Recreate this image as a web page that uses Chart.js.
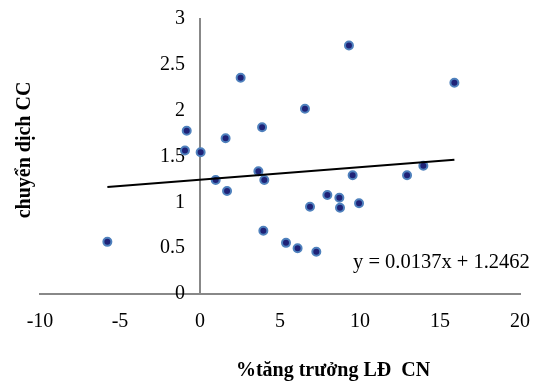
<!DOCTYPE html>
<html lang="vi">
<head>
  <meta charset="utf-8">
  <title>Scatter</title>
  <script src="https://cdn.jsdelivr.net/npm/chart.js"></script>
  <style>
    body { margin: 0; background: #fff; }
    .chart-box { width: 537px; height: 383px; position: relative; }
  </style>
</head>
<body>
  <div class="chart-box"><canvas id="scatterChart"></canvas></div>

  <script>
    // values
    const growthLD = [2.54, -0.83, 3.88, 1.6, -0.94, 0.04, 3.65, 0.98, 4.02, 1.69, 9.31, 15.9, 6.56,
      9.54, 12.94, 13.96, 7.96, 8.71, 6.875, 8.75, 9.94, 3.96, 5.375, 6.1, 7.27, -5.79];
    const shiftCC = [2.36, 1.78, 1.82, 1.70, 1.565, 1.547, 1.34, 1.244, 1.244, 1.124, 2.71, 2.305, 2.02,
      1.295, 1.295, 1.40, 1.08, 1.05, 0.952, 0.94, 0.99, 0.69, 0.558, 0.50, 0.46, 0.569];
    const trendX = [-5.79, 15.9];
    const trendY = [1.167, 1.464];
    const xTitle = '%tăng trưởng LĐ  CN';
    const yTitle = 'chuyển dịch CC';
    const equation = 'y = 0.0137x + 1.2462';

    const serif = '"Liberation Serif", "Times New Roman", serif';

    const textPlugin = {
      id: 'axisText',
      afterDraw(chart) {
        const ctx = chart.ctx;
        ctx.save();
        ctx.fillStyle = '#000';
        ctx.font = 'bold 20px ' + serif;
        ctx.textAlign = 'center';
        ctx.textBaseline = 'middle';
        ctx.fillText(xTitle, 333, 371);
        ctx.translate(25, 150);
        ctx.rotate(-Math.PI / 2);
        ctx.fillText(yTitle, 0, 0);
        ctx.restore();

        ctx.save();
        ctx.fillStyle = '#000';
        ctx.font = '20.5px ' + serif;
        ctx.textAlign = 'left';
        ctx.textBaseline = 'alphabetic';
        ctx.fillText(equation, 353, 268);
        ctx.restore();
      }
    };

    const plainNum = v => String(Number(v.toFixed(2)));
    // a y axis placed at x = 0 ignores tick padding, so trailing spaces keep the gap
    const yLabel = v => plainNum(v) + '\u2007 ';

    new Chart(document.getElementById('scatterChart').getContext('2d'), {
      type: 'scatter',
      data: {
        datasets: [
          {
            label: 'data',
            data: growthLD.map((x, i) => ({ x, y: shiftCC[i] })),
            backgroundColor: '#1f2277',
            borderColor: '#4f81bd',
            borderWidth: 2,
            pointRadius: 4,
            order: 2
          },
          {
            type: 'line',
            label: 'trend',
            data: trendX.map((x, i) => ({ x, y: trendY[i] })),
            borderColor: '#000',
            borderWidth: 2,
            pointRadius: 0,
            fill: false,
            order: 1
          }
        ]
      },
      options: {
        responsive: true,
        maintainAspectRatio: false,
        animation: false,
        layout: { padding: { left: 40, right: 17, top: 19, bottom: 89 } },
        plugins: { legend: { display: false }, tooltip: { enabled: false } },
        scales: {
          x: {
            type: 'linear',
            position: { y: 0 },
            min: -10, max: 20,
            // invisible tick marks only push the labels away from the axis
            grid: { drawOnChartArea: false, drawTicks: true, tickLength: 14, color: 'rgba(0,0,0,0)' },
            border: { display: true, color: '#888', width: 2 },
            ticks: { stepSize: 5, color: '#000', padding: 2, maxRotation: 0, callback: plainNum, font: { family: serif, size: 20 } }
          },
          y: {
            type: 'linear',
            position: { x: 0 },
            min: 0, max: 3,
            grid: { drawOnChartArea: false, drawTicks: true, tickLength: 4, color: 'rgba(0,0,0,0)' },
            border: { display: true, color: '#888', width: 2 },
            ticks: { stepSize: 0.5, color: '#000', padding: 2, callback: yLabel, font: { family: serif, size: 20 } }
          }
        }
      },
      plugins: [textPlugin]
    });
  </script>
</body>
</html>
